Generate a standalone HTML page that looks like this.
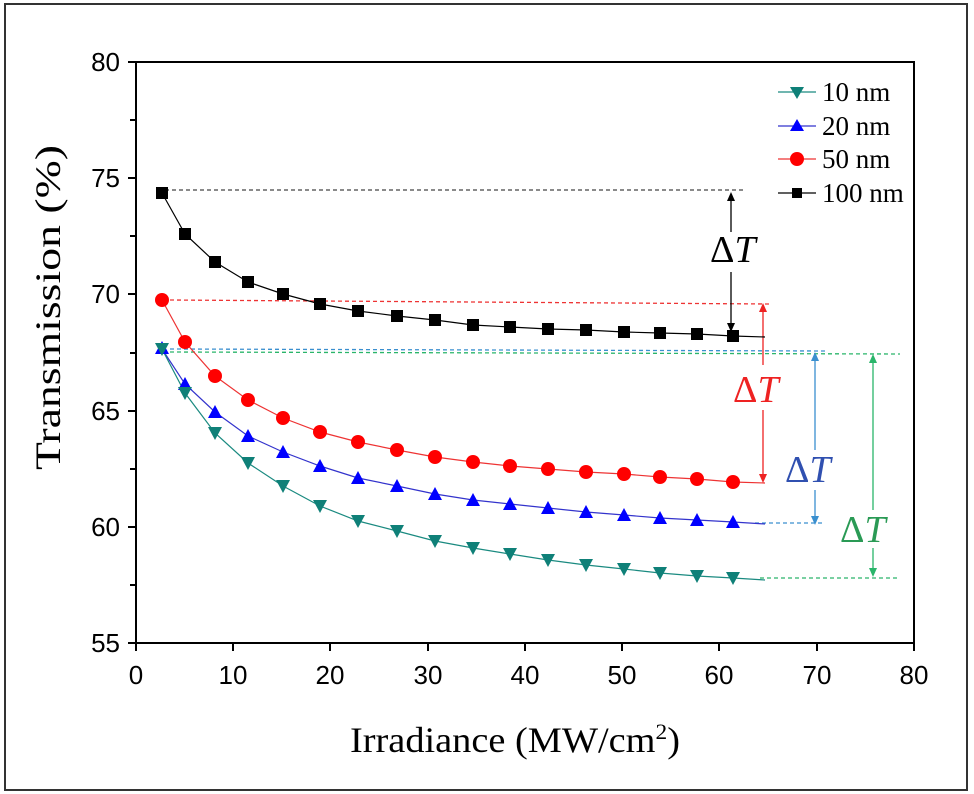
<!DOCTYPE html>
<html><head><style>body{margin:0;background:#fff}svg{display:block}</style></head><body>
<svg width="974" height="794" xmlns="http://www.w3.org/2000/svg" font-family="Liberation Sans, sans-serif">
<rect x="5" y="4" width="962" height="786" fill="#fff" stroke="#333" stroke-width="2"/>
<rect x="136" y="62" width="778" height="581" fill="none" stroke="#000" stroke-width="2"/>
<g stroke="#000" stroke-width="2">
<line x1="128" y1="62" x2="136" y2="62"/><line x1="130" y1="120" x2="136" y2="120"/><line x1="128" y1="178" x2="136" y2="178"/><line x1="130" y1="236" x2="136" y2="236"/><line x1="128" y1="294" x2="136" y2="294"/><line x1="130" y1="353" x2="136" y2="353"/><line x1="128" y1="411" x2="136" y2="411"/><line x1="130" y1="469" x2="136" y2="469"/><line x1="128" y1="527" x2="136" y2="527"/><line x1="130" y1="585" x2="136" y2="585"/><line x1="128" y1="643" x2="136" y2="643"/>
<line x1="136" y1="643" x2="136" y2="651"/><line x1="233" y1="643" x2="233" y2="651"/><line x1="330" y1="643" x2="330" y2="651"/><line x1="428" y1="643" x2="428" y2="651"/><line x1="525" y1="643" x2="525" y2="651"/><line x1="622" y1="643" x2="622" y2="651"/><line x1="719" y1="643" x2="719" y2="651"/><line x1="817" y1="643" x2="817" y2="651"/><line x1="914" y1="643" x2="914" y2="651"/>
</g>
<g font-size="26" text-anchor="end">
<text x="120" y="71">80</text><text x="120" y="187">75</text><text x="120" y="303">70</text><text x="120" y="420">65</text><text x="120" y="536">60</text><text x="120" y="652">55</text>
</g>
<g font-size="26" text-anchor="middle">
<text x="136" y="684">0</text><text x="233" y="684">10</text><text x="330" y="684">20</text><text x="428" y="684">30</text><text x="525" y="684">40</text><text x="622" y="684">50</text><text x="719" y="684">60</text><text x="817" y="684">70</text><text x="914" y="684">80</text>
</g>
<text x="350" y="752" font-family="Liberation Serif, serif" font-size="36" textLength="330" lengthAdjust="spacingAndGlyphs">Irradiance (MW/cm<tspan font-size="22" dy="-13">2</tspan><tspan dy="13">)</tspan></text>
<text transform="translate(60,470) rotate(-90)" font-family="Liberation Serif, serif" font-size="36" textLength="325" lengthAdjust="spacingAndGlyphs">Transmission (%)</text>
<g stroke-width="1.3" stroke-dasharray="4,3" fill="none">
<line x1="165" y1="190" x2="745" y2="190" stroke="#444"/>
<line x1="170" y1="300" x2="770" y2="304" stroke="#e33"/>
<line x1="170" y1="349" x2="825" y2="351" stroke="#3a8fcf"/>
<line x1="170" y1="352" x2="900" y2="354" stroke="#2ab56a"/>
<line x1="755" y1="523" x2="825" y2="523" stroke="#3a8fcf"/>
<line x1="760" y1="578" x2="900" y2="578" stroke="#2ab56a"/>
</g>
<g stroke-width="1.3">
<line x1="731" y1="196" x2="731" y2="232" stroke="#000"/><line x1="731" y1="272" x2="731" y2="326" stroke="#000"/>
<line x1="763" y1="308" x2="763" y2="365" stroke="#e22"/><line x1="763" y1="410" x2="763" y2="478" stroke="#e22"/>
<line x1="815" y1="356" x2="815" y2="450" stroke="#3a8fcf"/><line x1="815" y1="490" x2="815" y2="520" stroke="#3a8fcf"/>
<line x1="873" y1="358" x2="873" y2="510" stroke="#2ab56a"/><line x1="873" y1="548" x2="873" y2="574" stroke="#2ab56a"/>
</g>
<polygon points="731,192 727,201 735,201" fill="#000"/><polygon points="731,332 727,323 735,323" fill="#000"/>
<polygon points="763,303 759,312 767,312" fill="#e22"/><polygon points="763,483 759,474 767,474" fill="#e22"/>
<polygon points="815,352 811,361 819,361" fill="#3a8fcf"/><polygon points="815,525 811,516 819,516" fill="#3a8fcf"/>
<polygon points="873,354 869,363 877,363" fill="#2ab56a"/><polygon points="873,577 869,568 877,568" fill="#2ab56a"/>
<g font-family="Liberation Serif, serif" font-size="38">
<text x="710" y="262" fill="#000">Δ<tspan font-style="italic">T</tspan></text>
<text x="733" y="402" fill="#e22">Δ<tspan font-style="italic">T</tspan></text>
<text x="785" y="482" fill="#3050b0">Δ<tspan font-style="italic">T</tspan></text>
<text x="840" y="542" fill="#2a9a55">Δ<tspan font-style="italic">T</tspan></text>
</g>
<polyline fill="none" stroke="#000" stroke-width="1.2" points="162,193 185,234 215,262 248,282 283,294 320,304 358,311 397,316 435,320 473,325 510,327 548,329 586,330 624,332 660,333 697,334 733,336 765,337"/>
<polyline fill="none" stroke="#e33" stroke-width="1.2" points="162,300 185,342 215,376 248,400 283,418 320,432 358,442 397,450 435,457 473,462 510,466 548,469 586,472 624,474 660,477 697,479 733,482 765,483"/>
<polyline fill="none" stroke="#33c" stroke-width="1.2" points="162,349 185,384 215,412 248,436 283,452 320,466 358,478 397,486 435,494 473,500 510,504 548,508 586,512 624,515 660,518 697,520 733,522 765,524"/>
<polyline fill="none" stroke="#1a8a80" stroke-width="1.2" points="162,349 185,393 215,433 248,463 283,486 320,506 358,521 397,531 435,541 473,548 510,554 548,560 586,565 624,569 660,573 697,576 733,578 765,580"/>
<g fill="#000">
<rect x="156" y="187" width="12" height="12"/><rect x="179" y="228" width="12" height="12"/><rect x="209" y="256" width="12" height="12"/><rect x="242" y="276" width="12" height="12"/><rect x="277" y="288" width="12" height="12"/><rect x="314" y="298" width="12" height="12"/><rect x="352" y="305" width="12" height="12"/><rect x="391" y="310" width="12" height="12"/><rect x="429" y="314" width="12" height="12"/><rect x="467" y="319" width="12" height="12"/><rect x="504" y="321" width="12" height="12"/><rect x="542" y="323" width="12" height="12"/><rect x="580" y="324" width="12" height="12"/><rect x="618" y="326" width="12" height="12"/><rect x="654" y="327" width="12" height="12"/><rect x="691" y="328" width="12" height="12"/><rect x="727" y="330" width="12" height="12"/>
</g>
<g fill="#f00">
<circle cx="162" cy="300" r="7"/><circle cx="185" cy="342" r="7"/><circle cx="215" cy="376" r="7"/><circle cx="248" cy="400" r="7"/><circle cx="283" cy="418" r="7"/><circle cx="320" cy="432" r="7"/><circle cx="358" cy="442" r="7"/><circle cx="397" cy="450" r="7"/><circle cx="435" cy="457" r="7"/><circle cx="473" cy="462" r="7"/><circle cx="510" cy="466" r="7"/><circle cx="548" cy="469" r="7"/><circle cx="586" cy="472" r="7"/><circle cx="624" cy="474" r="7"/><circle cx="660" cy="477" r="7"/><circle cx="697" cy="479" r="7"/><circle cx="733" cy="482" r="7"/>
</g>
<g fill="#00f">
<polygon points="162,341 155,354 169,354"/><polygon points="185,377 178,390 192,390"/><polygon points="215,405 208,418 222,418"/><polygon points="248,429 241,442 255,442"/><polygon points="283,445 276,458 290,458"/><polygon points="320,459 313,472 327,472"/><polygon points="358,471 351,484 365,484"/><polygon points="397,479 390,492 404,492"/><polygon points="435,487 428,500 442,500"/><polygon points="473,493 466,506 480,506"/><polygon points="510,497 503,510 517,510"/><polygon points="548,501 541,514 555,514"/><polygon points="586,505 579,518 593,518"/><polygon points="624,508 617,521 631,521"/><polygon points="660,511 653,524 667,524"/><polygon points="697,513 690,526 704,526"/><polygon points="733,515 726,528 740,528"/>
</g>
<g fill="#0f8078">
<polygon points="162,356 155,343 169,343"/><polygon points="185,400 178,387 192,387"/><polygon points="215,440 208,427 222,427"/><polygon points="248,470 241,457 255,457"/><polygon points="283,493 276,480 290,480"/><polygon points="320,513 313,500 327,500"/><polygon points="358,528 351,515 365,515"/><polygon points="397,538 390,525 404,525"/><polygon points="435,548 428,535 442,535"/><polygon points="473,555 466,542 480,542"/><polygon points="510,561 503,548 517,548"/><polygon points="548,567 541,554 555,554"/><polygon points="586,572 579,559 593,559"/><polygon points="624,576 617,563 631,563"/><polygon points="660,580 653,567 667,567"/><polygon points="697,583 690,570 704,570"/><polygon points="733,585 726,572 740,572"/>
</g>
<g stroke-width="1.2">
<line x1="778" y1="92" x2="816" y2="92" stroke="#1a8a80"/><line x1="778" y1="126" x2="816" y2="126" stroke="#33c"/><line x1="778" y1="159" x2="816" y2="159" stroke="#e33"/><line x1="778" y1="193" x2="816" y2="193" stroke="#000"/>
</g>
<polygon points="797,99 790,87 804,87" fill="#0f8078"/>
<polygon points="797,119 790,131 804,131" fill="#00f"/>
<circle cx="797" cy="159" r="7" fill="#f00"/>
<rect x="792" y="188" width="10" height="10" fill="#000"/>
<g font-family="Liberation Serif, serif" font-size="27">
<text x="822" y="101">10 nm</text><text x="822" y="135">20 nm</text><text x="822" y="168">50 nm</text><text x="822" y="202">100 nm</text>
</g>
</svg>
</body></html>
